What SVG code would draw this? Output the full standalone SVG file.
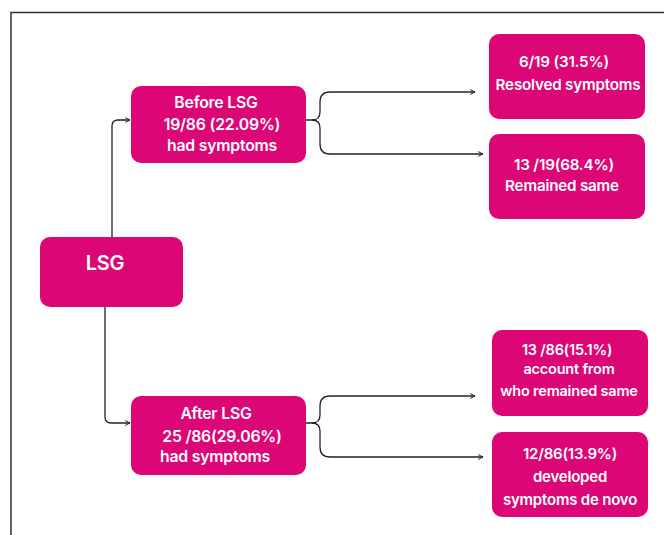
<svg xmlns="http://www.w3.org/2000/svg" width="664" height="535" viewBox="0 0 664 535">
<defs>
<marker id="ah" viewBox="0 0 10 10" refX="9" refY="5" markerWidth="6" markerHeight="6" markerUnits="userSpaceOnUse" orient="auto">
<path d="M1,1 L9,5 L1,9" fill="none" stroke="#222" stroke-width="1.6"/>
</marker>
</defs>
<style>
.box{fill:#dd0677;}
.t{font-family:Inter,"Liberation Sans",sans-serif;font-weight:600;fill:#fff;text-anchor:middle;letter-spacing:-0.2px;}
.c{fill:none;stroke:#222;stroke-width:1.3;}
</style>
<rect width="664" height="535" fill="#fff"/>
<path d="M11,535 V12.5 H664" fill="none" stroke="#333" stroke-width="1.5"/>
<g id="connectors">
<path class="c" d="M112,237 V126 Q112,120 118,120 H130" marker-end="url(#ah)"/>
<path class="c" d="M105,307 V417 Q105,423 111,423 H130" marker-end="url(#ah)"/>
<path class="c" d="M306,120 H312 Q320,120 320,112 V102 Q320,92 330,92 H475" marker-end="url(#ah)"/>
<path class="c" d="M312,120 Q320,120 320,128 V144 Q320,154 330,154 H483" marker-end="url(#ah)"/>
<path class="c" d="M306,423 H312 Q320,423 320,415 V406 Q320,396 330,396 H475" marker-end="url(#ah)"/>
<path class="c" d="M312,423 Q320,423 320,431 V447 Q320,457 330,457 H483" marker-end="url(#ah)"/>
</g>
<g id="lsg">
<rect class="box" x="40" y="237" width="143" height="70" rx="10"/>
<text class="t" x="105" y="270" font-size="20">LSG</text>
</g>
<g id="before">
<rect class="box" x="131" y="86" width="175" height="77" rx="10"/>
<text class="t" font-size="15.8"><tspan x="216" y="108">Before LSG</tspan><tspan x="222" y="130">19/86 (22.09%)</tspan><tspan x="222" y="151">had symptoms</tspan></text>
</g>
<g id="after">
<rect class="box" x="131" y="396" width="175" height="79" rx="10"/>
<text class="t" font-size="15.8"><tspan x="216" y="419">After LSG</tspan><tspan x="222" y="442">25 /86(29.06%)</tspan><tspan x="215" y="462">had symptoms</tspan></text>
</g>
<g id="resolved">
<rect class="box" x="489" y="34" width="156" height="85" rx="10"/>
<text class="t" font-size="15.2"><tspan x="564" y="67">6/19 (31.5%)</tspan><tspan x="568" y="90">Resolved symptoms</tspan></text>
</g>
<g id="remained">
<rect class="box" x="489" y="134" width="156" height="85" rx="10"/>
<text class="t" font-size="15.2"><tspan x="564" y="170">13 /19(68.4%)</tspan><tspan x="562" y="191">Remained same</tspan></text>
</g>
<g id="account">
<rect class="box" x="492" y="330" width="156" height="86" rx="10"/>
<text class="t" font-size="14.5"><tspan x="567" y="355">13 /86(15.1%)</tspan><tspan x="569" y="374">account from</tspan><tspan x="569" y="396">who remained same</tspan></text>
</g>
<g id="denovo">
<rect class="box" x="492" y="432" width="156" height="85" rx="10"/>
<text class="t" font-size="15"><tspan x="570" y="459">12/86(13.9%)</tspan><tspan x="570" y="482">developed</tspan><tspan x="570" y="505">symptoms de novo</tspan></text>
</g>
</svg>
